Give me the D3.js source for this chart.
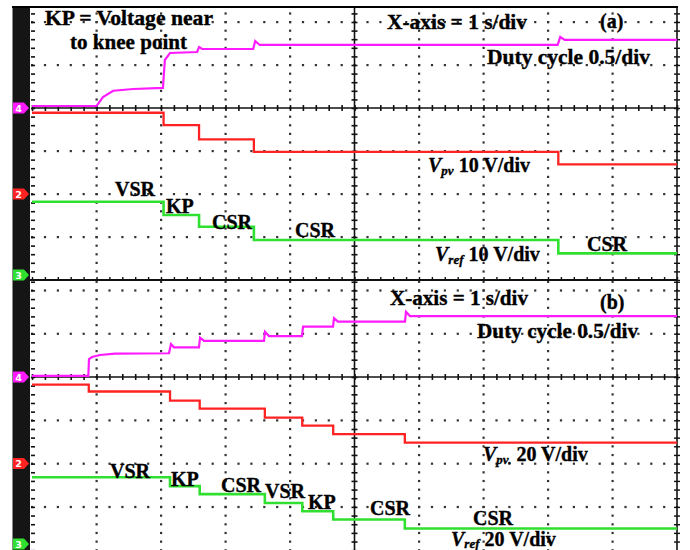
<!DOCTYPE html>
<html>
<head>
<meta charset="utf-8">
<script src="https://cdn.jsdelivr.net/npm/d3@7/dist/d3.min.js"></script>
<style>
  html, body { margin: 0; padding: 0; background: #fff; }
  svg { display: block; }
</style>
</head>
<body>
<svg id="scope" width="690" height="550"></svg>
<script>
// ---- Recorded waveforms (time in s, 1 s/div, 10 divisions) ----

// Panel (a): step instants of the PV voltage / reference
const stepTimesA = [0, 2.04, 2.59, 3.44, 8.16];
const vpvA  = [18.9, 16.0, 12.7, 9.8, 6.9];   // V, 10 V/div
const vrefA = [18.2, 15.1, 12.4, 9.3, 6.2];   // V, 10 V/div
// Panel (a): duty cycle, 0.5/div
const dutyTimeA = [0, 1.0, 1.10, 1.26, 1.57, 2.03, 2.06, 2.14, 2.56, 2.59, 2.64, 3.43, 3.46, 3.53, 8.15, 8.19, 8.26, 10];
const dutyA     = [0.023, 0.023, 0.128, 0.201, 0.221, 0.233, 0.558, 0.640, 0.651, 0.709, 0.686, 0.686, 0.779, 0.733, 0.733, 0.826, 0.791, 0.791];

// Panel (b)
const stepTimesB = [0, 0.88, 2.14, 2.60, 3.61, 4.19, 4.67, 5.78];
const vpvB  = [36.5, 33.3, 29.1, 25.4, 21.2, 17.5, 13.6, 9.7];   // V, 20 V/div
const refTimesB = [0, 2.14, 2.60, 3.61, 4.19, 4.67, 5.78];
const vrefB = [33.7, 29.6, 25.9, 21.8, 18.0, 14.2, 10.0];        // V, 20 V/div
const dutyTimeB = [0, 0.873, 0.884, 0.93, 1.054, 1.287, 2.124, 2.155, 2.20, 2.589, 2.605, 2.667, 3.597, 3.612, 3.674, 4.186, 4.202, 4.667, 4.682, 4.744, 5.783, 5.798, 5.86, 10];
const dutyB     = [0.012, 0.012, 0.208, 0.231, 0.254, 0.271, 0.274, 0.381, 0.343, 0.343, 0.454, 0.416, 0.416, 0.523, 0.473, 0.473, 0.581, 0.581, 0.678, 0.639, 0.639, 0.754, 0.704, 0.704];

// Channel sensitivities (units per division)
const dutyPerDiv = 0.5;
const voltsPerDivA = 10;
const voltsPerDivB = 20;

const COL = { duty: "#ff1aff", vpv: "#ff2222", vref: "#30e030" };

const svg = d3.select("#scope");
const X0 = 32, X1 = 677;
const x = d3.scaleLinear().domain([0, 10]).range([X0, X1]);

// Panel geometry: screen center line and pixels per division
const panels = [
  { id: "a", top: 7,   bottom: 281, center: 108, divPx: 43,
    duty: { t: dutyTimeA, v: dutyA },
    vpv:  { t: stepTimesA, v: vpvA, per: voltsPerDivA, zeroDiv: -2 },
    vref: { t: stepTimesA, v: vrefA, per: voltsPerDivA, zeroDiv: -4 } },
  { id: "b", top: 281, bottom: 550, center: 377, divPx: 43.3,
    duty: { t: dutyTimeB, v: dutyB },
    vpv:  { t: stepTimesB, v: vpvB, per: voltsPerDivB, zeroDiv: -2 },
    vref: { t: refTimesB, v: vrefB, per: voltsPerDivB, zeroDiv: -4 } }
];

const defs = svg.append("defs");

panels.forEach(p => {
  const yDiv = d3.scaleLinear().domain([-4, 4]).range([p.center + 4 * p.divPx, p.center - 4 * p.divPx]);
  p.yDiv = yDiv;
  const yDuty = d3.scaleLinear().domain([0, dutyPerDiv]).range([yDiv(0), yDiv(1)]);
  const yVpv  = d3.scaleLinear().domain([0, p.vpv.per]).range([yDiv(p.vpv.zeroDiv), yDiv(p.vpv.zeroDiv + 1)]);
  const yVref = d3.scaleLinear().domain([0, p.vref.per]).range([yDiv(p.vref.zeroDiv), yDiv(p.vref.zeroDiv + 1)]);

  defs.append("clipPath").attr("id", "clip-" + p.id)
    .append("rect").attr("x", 0).attr("y", p.top).attr("width", 690).attr("height", p.bottom - p.top);

  const g = svg.append("g").attr("clip-path", `url(#clip-${p.id})`);

  // dotted graticule
  const dots = [];
  d3.range(-4, 5).forEach(k => {
    if (k === 0 || k === -4) return;
    d3.range(0, 10.001, 0.2).forEach(t => dots.push([x(t), yDiv(k)]));
  });
  d3.range(1, 10).forEach(t => {
    if (t === 5) return;
    d3.range(-4, 4.001, 0.2).forEach(k => dots.push([x(t), yDiv(k)]));
  });
  g.append("g").selectAll("rect").data(dots).join("rect")
    .attr("x", d => d[0] - 1).attr("y", d => d[1] - 1)
    .attr("width", 2.2).attr("height", 2.2).attr("fill", "#333");

  // center axes with minor ticks
  const hTicks = d3.range(0, 10.001, 0.2);
  g.append("g").attr("transform", `translate(0,${yDiv(0) - 3})`)
    .call(d3.axisBottom(x).tickValues(hTicks).tickSize(6).tickFormat(""))
    .call(a => a.select(".domain").remove())
    .selectAll("line").attr("stroke", "#111").attr("stroke-width", 1.6);
  g.append("line").attr("x1", X0).attr("x2", X1).attr("y1", yDiv(0)).attr("y2", yDiv(0))
    .attr("stroke", "#111").attr("stroke-width", 1.6);

  const vTicks = d3.range(-4, 4.001, 0.2);
  g.append("g").attr("transform", `translate(${x(5) - 3},0)`)
    .call(d3.axisRight(yDiv).tickValues(vTicks).tickSize(6).tickFormat(""))
    .call(a => a.select(".domain").remove())
    .selectAll("line").attr("stroke", "#111").attr("stroke-width", 1.6);
  g.append("line").attr("x1", x(5)).attr("x2", x(5)).attr("y1", p.top).attr("y2", p.bottom)
    .attr("stroke", "#111").attr("stroke-width", 1.6);

  // left and right borders with minor ticks
  g.append("g").attr("transform", `translate(${X0 - 1},0)`)
    .call(d3.axisRight(yDiv).tickValues(vTicks).tickSize(4).tickFormat(""))
    .call(a => a.select(".domain").remove())
    .selectAll("line").attr("stroke", "#111").attr("stroke-width", 1.6);
  g.append("g").attr("transform", `translate(${X1 - 3},0)`)
    .call(d3.axisRight(yDiv).tickValues(vTicks).tickSize(6).tickFormat(""))
    .call(a => a.select(".domain").remove())
    .selectAll("line").attr("stroke", "#111").attr("stroke-width", 1.4);
  g.append("line").attr("x1", X1).attr("x2", X1).attr("y1", p.top).attr("y2", p.bottom)
    .attr("stroke", "#111").attr("stroke-width", 1.6);

  // bottom border of the upper screen
  if (p.id === "a") {
    g.append("g").attr("transform", `translate(0,${yDiv(-4) - 3})`)
      .call(d3.axisBottom(x).tickValues(hTicks).tickSize(3).tickFormat(""))
      .call(a => a.select(".domain").remove())
      .selectAll("line").attr("stroke", "#111").attr("stroke-width", 1.4);
    g.append("line").attr("x1", 30).attr("x2", X1).attr("y1", yDiv(-4)).attr("y2", yDiv(-4))
      .attr("stroke", "#111").attr("stroke-width", 1.8);
  }

  // traces
  const stepLine = ys => d3.line().x(d => x(d[0])).y(d => ys(d[1])).curve(d3.curveStepAfter);
  const stepPts = s => s.t.map((t, i) => [t, s.v[i]]).concat([[10, s.v[s.v.length - 1]]]);

  g.append("path").datum(stepPts(p.vref)).attr("d", stepLine(yVref))
    .attr("fill", "none").attr("stroke", COL.vref).attr("stroke-width", 2.6);
  g.append("path").datum(stepPts(p.vpv)).attr("d", stepLine(yVpv))
    .attr("fill", "none").attr("stroke", COL.vpv).attr("stroke-width", 2.3);
  g.append("path").datum(p.duty.t.map((t, i) => [t, p.duty.v[i]]))
    .attr("d", d3.line().x(d => x(d[0])).y(d => yDuty(d[1])))
    .attr("fill", "none").attr("stroke", COL.duty).attr("stroke-width", 2.2);

  // ground-level markers, kept inside the visible screen area
  const inside = y => Math.min(y, p.bottom - 6);
  p.markers = [
    { ch: "4", color: COL.duty, y: inside(yDuty(0)) },
    { ch: "2", color: COL.vpv, y: inside(yVpv(0)) },
    { ch: "3", color: COL.vref, y: inside(yVref(0)) }
  ];
});

// channel strip on the left
svg.append("rect").attr("x", 12.5).attr("y", 7).attr("width", 17.5).attr("height", 543).attr("fill", "#151515");
panels.forEach(p => {
  const gm = svg.append("g").attr("clip-path", `url(#clip-${p.id})`);
  p.markers.forEach(m => {
    const y = m.y;
    gm.append("path")
      .attr("d", `M13,${y - 5.5}H24L29,${y}L24,${y + 5.5}H13Z`)
      .attr("fill", m.color);
    gm.append("text").attr("x", 18.5).attr("y", y + 3.5)
      .attr("text-anchor", "middle").attr("font-family", "DejaVu Sans, sans-serif")
      .attr("font-weight", "bold").attr("font-size", 9.5).attr("fill", "#fff").text(m.ch);
  });
});

// outer top frame line
svg.append("line").attr("x1", 12).attr("x2", 678).attr("y1", 7).attr("y2", 7)
  .attr("stroke", "#000").attr("stroke-width", 2.2);

// ---- annotations ----
const labels = [
  { text: "KP = Voltage near", x: 45, y: 25, w: 168 },
  { text: "to knee point", x: 70, y: 49, w: 117 },
  { text: "X-axis = 1 s/div", x: 387, y: 29, w: 140 },
  { text: "(a)", x: 600, y: 28 },
  { text: "Duty cycle 0.5/div", x: 487, y: 64, w: 163 },
  { text: "VSR", x: 115, y: 196 },
  { text: "KP", x: 166, y: 213 },
  { text: "CSR", x: 212, y: 229 },
  { text: "CSR", x: 295, y: 237 },
  { text: "CSR", x: 587, y: 251 },
  { text: "X-axis = 1 s/div", x: 390, y: 305, w: 138 },
  { text: "(b)", x: 600, y: 309 },
  { text: "Duty cycle 0.5/div", x: 477, y: 338, w: 161 },
  { text: "VSR", x: 110, y: 478 },
  { text: "KP", x: 171, y: 486 },
  { text: "CSR", x: 221, y: 492 },
  { text: "VSR", x: 265, y: 498 },
  { text: "KP", x: 308, y: 509 },
  { text: "CSR", x: 370, y: 515 },
  { text: "CSR", x: 473, y: 525 }
];
const FONT = "'Liberation Serif', 'Times New Roman', serif";
const tl = svg.append("g").attr("font-family", FONT).attr("font-weight", "bold")
  .attr("font-size", 20).attr("fill", "#000")
  .attr("stroke", "#000").attr("stroke-width", 0.35);
labels.forEach(l => {
  const t = tl.append("text").attr("x", l.x).attr("y", l.y).text(l.text);
  if (l.w) t.attr("textLength", l.w).attr("lengthAdjust", "spacingAndGlyphs");
});

// channel captions with subscripts
const captions = [
  { main: "V", sub: "pv", rest: " 10 V/div", x: 428, y: 172, dy: 3 },
  { main: "V", sub: "ref", rest: " 10 V/div", x: 435, y: 261, dy: 3 },
  { main: "V", sub: "pv.", rest: " 20 V/div", x: 483, y: 461, dy: 3 },
  { main: "V", sub: "ref", rest: " 20 V/div", x: 451, y: 546, dy: 1.5 }
];
captions.forEach(c => {
  const t = tl.append("text").attr("x", c.x).attr("y", c.y);
  t.append("tspan").attr("font-style", "italic").text(c.main);
  t.append("tspan").attr("font-style", "italic").attr("font-size", 13).attr("dy", c.dy).text(c.sub);
  t.append("tspan").attr("dy", -c.dy).text(c.rest);
});
</script>
</body>
</html>
